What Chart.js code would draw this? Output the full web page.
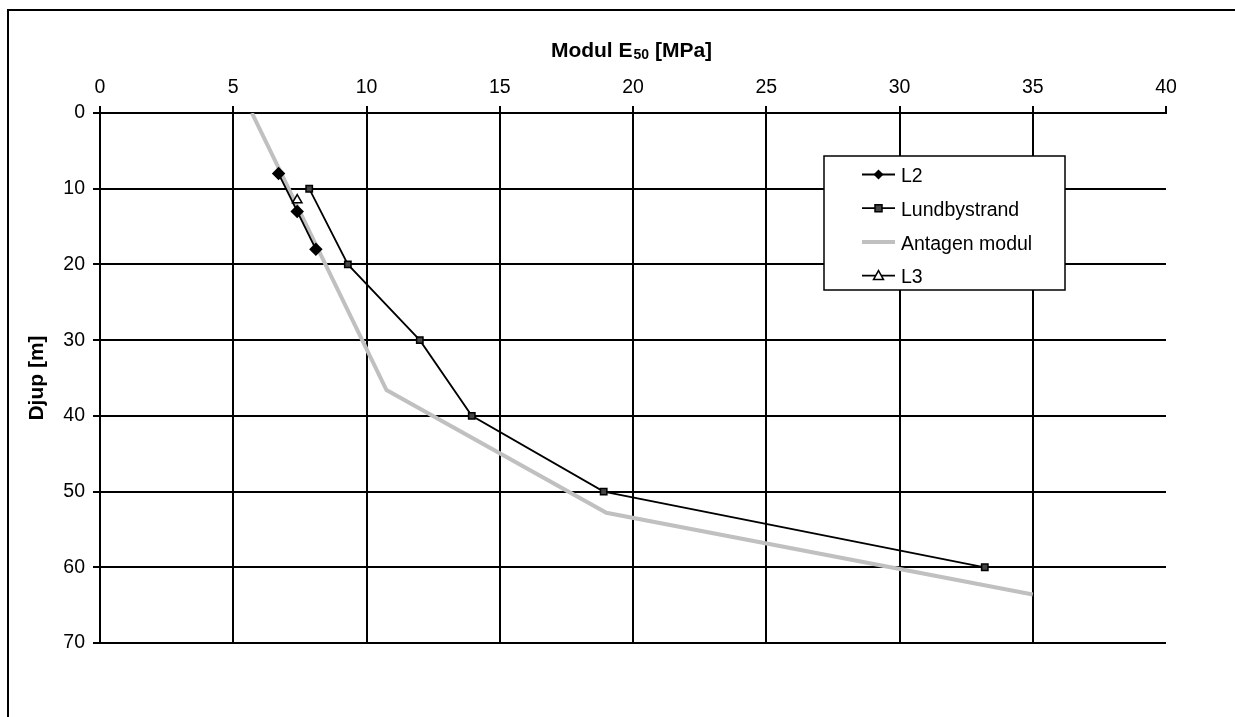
<!DOCTYPE html>
<html>
<head>
<meta charset="utf-8">
<script src="https://cdn.jsdelivr.net/npm/chart.js@4/dist/chart.umd.min.js"></script>
<style>
  html, body { margin: 0; padding: 0; background: #fff; }
  #myChart { display: block; }
</style>
</head>
<body>
<canvas id="myChart" width="1235" height="717"></canvas>
<script>
// values: modul E50 [MPa] against djup [m]
var depthL2 = [8, 13, 18];
var modulL2 = [6.7, 7.4, 8.1];

var depthLund = [10, 20, 30, 40, 50, 60];
var modulLund = [7.85, 9.3, 12.0, 13.95, 18.9, 33.2];

var depthAntagen = [0, 36.6, 52.8, 63.6];
var modulAntagen = [5.7, 10.75, 19.0, 35.0];

var depthL3 = [11.5];
var modulL3 = [7.4];

var xTicks = [0, 5, 10, 15, 20, 25, 30, 35, 40];
var yTicks = [0, 10, 20, 30, 40, 50, 60, 70];

var FONT = "'Liberation Sans', Arial, sans-serif";

function pts(xs, ys) {
    return xs.map(function (x, i) { return { x: x, y: ys[i] }; });
}

function marker(ctx, kind, x, y) {
    ctx.save();
    ctx.strokeStyle = '#000';
    ctx.lineWidth = 1.5;
    ctx.beginPath();
    if (kind === 'diamond') {
        ctx.moveTo(x, y - 5); ctx.lineTo(x + 5, y); ctx.lineTo(x, y + 5); ctx.lineTo(x - 5, y);
        ctx.closePath(); ctx.fillStyle = '#000'; ctx.fill();
    } else if (kind === 'square') {
        ctx.rect(x - 3.5, y - 3.5, 7, 7); ctx.fillStyle = '#444'; ctx.fill(); ctx.stroke();
    } else if (kind === 'triangle') {
        ctx.moveTo(x, y - 5); ctx.lineTo(x + 5, y + 4); ctx.lineTo(x - 5, y + 4);
        ctx.closePath(); ctx.fillStyle = '#fff'; ctx.fill(); ctx.stroke();
    }
    ctx.restore();
}

var frame = {
    id: 'frame',
    beforeDraw: function (chart) {
        var ctx = chart.ctx;
        ctx.save();
        ctx.fillStyle = '#fff';
        ctx.fillRect(0, 0, chart.width, chart.height);
        ctx.strokeStyle = '#000';
        ctx.lineWidth = 2;
        ctx.beginPath();
        ctx.moveTo(8, 717); ctx.lineTo(8, 10); ctx.lineTo(1235, 10);
        ctx.stroke();
        ctx.restore();
    },
    afterDraw: function (chart) {
        var ctx = chart.ctx;
        var area = chart.chartArea;
        ctx.save();
        ctx.fillStyle = '#000';

        // x title with subscript
        var big = 'bold 21px ' + FONT, small = 'bold 14px ' + FONT;
        ctx.font = big; var w1 = ctx.measureText('Modul E').width;
        var w3 = ctx.measureText(' [MPa]').width;
        ctx.font = small; var w2 = ctx.measureText('50').width;
        var cx = (area.left + area.right) / 2;
        var x0 = cx - (w1 + w2 + w3) / 2 - 2, by = 57;
        ctx.textBaseline = 'alphabetic'; ctx.textAlign = 'left';
        ctx.font = big; ctx.fillText('Modul E', x0, by);
        ctx.font = small; ctx.fillText('50', x0 + w1 + 1, by + 2);
        ctx.font = big; ctx.fillText(' [MPa]', x0 + w1 + w2 + 1, by);

        // y title
        ctx.translate(37, (area.top + area.bottom) / 2);
        ctx.rotate(-Math.PI / 2);
        ctx.textAlign = 'center'; ctx.textBaseline = 'middle';
        ctx.font = 'bold 21px ' + FONT;
        ctx.fillText('Djup [m]', 0, 0);
        ctx.restore();

        // legend box
        ctx.save();
        ctx.fillStyle = '#fff';
        ctx.fillRect(824, 156, 241, 134);
        ctx.strokeStyle = '#000'; ctx.lineWidth = 1.5;
        ctx.strokeRect(824, 156, 241, 134);
        var kinds = ['diamond', 'square', null, 'triangle'];
        chart.data.datasets.forEach(function (ds, i) {
            var y = 174.5 + i * 33.7;
            ctx.strokeStyle = ds.borderColor;
            ctx.lineWidth = ds.borderWidth;
            ctx.beginPath(); ctx.moveTo(862, y); ctx.lineTo(895, y); ctx.stroke();
            if (kinds[i]) marker(ctx, kinds[i], 878.5, y);
            ctx.fillStyle = '#000';
            ctx.font = '19.5px ' + FONT;
            ctx.textAlign = 'left'; ctx.textBaseline = 'middle';
            ctx.fillText(ds.label, 901, y + 2.5);
        });
        ctx.restore();
    }
};

var ctx = document.getElementById('myChart');
window.myChart = new Chart(ctx, {
    type: 'scatter',
    data: {
        datasets: [{
            label: 'L2',
            data: pts(modulL2, depthL2),
            showLine: true,
            borderColor: '#000',
            borderWidth: 1.8,
            pointStyle: 'rectRot',
            pointRadius: 5.5,
            pointBackgroundColor: '#000',
            pointBorderColor: '#000',
            order: 2
        }, {
            label: 'Lundbystrand',
            data: pts(modulLund, depthLund),
            showLine: true,
            borderColor: '#000',
            borderWidth: 1.8,
            pointStyle: 'rect',
            pointRadius: 4.5,
            pointBackgroundColor: '#444',
            pointBorderColor: '#000',
            pointBorderWidth: 1.5,
            order: 3
        }, {
            label: 'Antagen modul',
            data: pts(modulAntagen, depthAntagen),
            showLine: true,
            borderColor: '#c0c0c0',
            borderWidth: 4,
            pointRadius: 0,
            order: 4
        }, {
            label: 'L3',
            data: pts(modulL3, depthL3),
            showLine: true,
            borderColor: '#000',
            borderWidth: 1.8,
            pointStyle: 'triangle',
            pointRadius: 5.5,
            pointBackgroundColor: '#fff',
            pointBorderColor: '#000',
            pointBorderWidth: 1.5,
            order: 1
        }]
    },
    options: {
        responsive: false,
        animation: false,
        devicePixelRatio: 1,
        layout: { padding: { left: 0, top: 0, right: 69, bottom: 74 } },
        plugins: { legend: { display: false }, tooltip: { enabled: false } },
        scales: {
            x: {
                type: 'linear',
                position: 'top',
                min: 0, max: 40,
                afterFit: function (s) { s.height = 113; },
                afterBuildTicks: function (s) { s.ticks = xTicks.map(function (v) { return { value: v }; }); },
                grid: {
                    color: function (c) { return c.tick && c.tick.value === 40 ? 'rgba(0,0,0,0)' : '#000'; },
                    tickColor: '#000',
                    lineWidth: 2,
                    tickLength: 7
                },
                border: { display: true, color: '#000', width: 2 },
                ticks: { color: '#000', padding: 7, font: { family: FONT, size: 19.5 } }
            },
            y: {
                type: 'linear',
                reverse: true,
                min: 0, max: 70,
                afterFit: function (s) { s.width = 100; },
                afterBuildTicks: function (s) { s.ticks = yTicks.map(function (v) { return { value: v }; }); },
                grid: {
                    color: '#000',
                    tickColor: '#000',
                    lineWidth: 2,
                    tickLength: 7
                },
                border: { display: true, color: '#000', width: 2 },
                ticks: { color: '#000', padding: 8, font: { family: FONT, size: 19.5 } }
            }
        }
    },
    plugins: [frame]
});
</script>
</body>
</html>
